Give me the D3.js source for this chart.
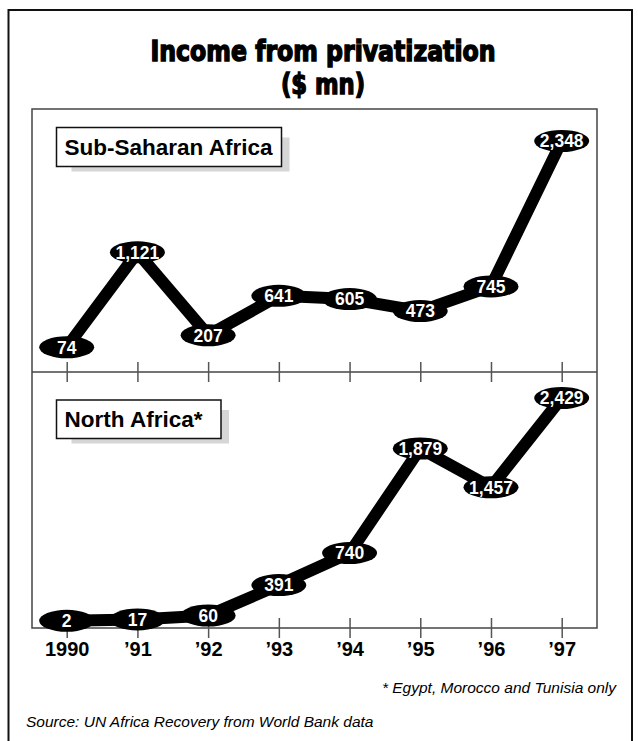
<!DOCTYPE html>
<html>
<head>
<meta charset="utf-8">
<script src="https://cdn.jsdelivr.net/npm/d3@7/dist/d3.min.js"></script>
<style>
  html, body { margin: 0; padding: 0; background: #fff; }
  svg { display: block; }
</style>
</head>
<body>
<script>
// Income from privatization, $ mn
const years = ["1990", "\u201991", "\u201992", "\u201993", "\u201994", "\u201995", "\u201996", "\u201997"];
const subSaharan = [74, 1121, 207, 641, 605, 473, 745, 2348];
const northAfrica = [2, 17, 60, 391, 740, 1879, 1457, 2429];
const panelNames = ["Sub-Saharan Africa", "North Africa*"];
const titleLines = ["Income from privatization", "($ mn)"];
const footnote = "* Egypt, Morocco and Tunisia only";
const source = "Source: UN Africa Recovery from World Bank data";

const W = 638, H = 741;
const box = { left: 32, right: 597, top: 109, mid: 372, bottom: 628 };

const svg = d3.select("body").append("svg").attr("width", W).attr("height", H);

// outer frame (open at the bottom edge of the page)
svg.append("rect")
  .attr("x", 8.5).attr("y", 10).attr("width", 623.5).attr("height", H + 20)
  .attr("fill", "none").attr("stroke", "#111").attr("stroke-width", 2);

// title, squeezed to a condensed look
const titleFont = "'Liberation Sans Narrow', 'DejaVu Sans Condensed', 'Liberation Sans', sans-serif";
const titleWidths = [345, 84];
titleLines.forEach((t, i) => {
  svg.append("text")
    .attr("x", 323).attr("y", 61 + i * 33)
    .attr("text-anchor", "middle")
    .attr("font-family", titleFont)
    .attr("font-weight", 700)
    .attr("font-size", 29)
    .attr("textLength", titleWidths[i])
    .attr("lengthAdjust", "spacingAndGlyphs")
    .attr("fill", "#000").attr("stroke", "#000").attr("stroke-width", 1.4)
    .text(t);
});

// chart box and divider
svg.append("rect")
  .attr("x", box.left).attr("y", box.top)
  .attr("width", box.right - box.left).attr("height", box.bottom - box.top)
  .attr("fill", "none").attr("stroke", "#444").attr("stroke-width", 1.5);
svg.append("line")
  .attr("x1", box.left).attr("x2", box.right)
  .attr("y1", box.mid).attr("y2", box.mid)
  .attr("stroke", "#444").attr("stroke-width", 1.5);

const x = d3.scalePoint().domain(years).range([66.7, 561.7]);

const yTop = d3.scaleLinear().domain([0, 2348]).range([354, 141]);
const yBottom = d3.scaleLinear().domain([0, 2429]).range([621, 398]);

// tick marks crossing each baseline
[box.mid, box.bottom].forEach(yb => {
  const g = svg.append("g")
    .attr("transform", `translate(0,${yb - 10})`)
    .call(d3.axisBottom(x).tickSize(20).tickFormat(""));
  g.select(".domain").remove();
  g.selectAll(".tick line").attr("stroke", "#555").attr("stroke-width", 1.5);
});

// year labels
const labelAxis = svg.append("g")
  .attr("transform", `translate(0,${box.bottom})`)
  .call(d3.axisBottom(x).tickSize(0).tickPadding(14));
labelAxis.select(".domain").remove();
labelAxis.selectAll(".tick text")
  .attr("font-family", "'Liberation Sans', Arial, sans-serif")
  .attr("font-weight", 700)
  .attr("font-size", 20)
  .attr("fill", "#000");

// panel label boxes with drop shadow
function panelLabel(name, bx, by, bw, bh) {
  svg.append("rect")
    .attr("x", bx + 15).attr("y", by + 10)
    .attr("width", bw - 7).attr("height", bh - 5)
    .attr("fill", "#d6d6d6");
  svg.append("rect")
    .attr("x", bx).attr("y", by).attr("width", bw).attr("height", bh)
    .attr("fill", "#fff").attr("stroke", "#111").attr("stroke-width", 1.5);
  svg.append("text")
    .attr("x", bx + 8).attr("y", by + bh / 2 + 7.5)
    .attr("font-family", "'Liberation Sans', Arial, sans-serif")
    .attr("font-weight", 700).attr("font-size", 22.5)
    .attr("fill", "#000")
    .text(name);
}
panelLabel(panelNames[0], 56.5, 127.5, 225, 39);
panelLabel(panelNames[1], 56.5, 400, 164.5, 38.5);

const fmt = d3.format(",");

function series(values, y) {
  const pts = values.map((v, i) => ({ v, yr: years[i] }));
  svg.append("path")
    .datum(pts)
    .attr("fill", "none").attr("stroke", "#000")
    .attr("stroke-width", 12).attr("stroke-linejoin", "round")
    .attr("d", d3.line().x(d => x(d.yr)).y(d => y(d.v)));
  const g = svg.append("g").selectAll("g").data(pts).join("g")
    .attr("transform", d => `translate(${x(d.yr)},${y(d.v)})`);
  g.append("ellipse")
    .attr("rx", 27.5).attr("ry", 11)
    .attr("fill", "#000");
  g.append("text")
    .attr("text-anchor", "middle").attr("dy", "0.36em")
    .attr("font-family", "'Liberation Sans', Arial, sans-serif")
    .attr("font-weight", 700).attr("font-size", 17.5)
    .attr("fill", "#fff")
    .text(d => fmt(d.v));
}
series(subSaharan, yTop);
series(northAfrica, yBottom);

// notes
svg.append("text")
  .attr("x", 616).attr("y", 693)
  .attr("text-anchor", "end")
  .attr("font-family", "'Liberation Sans', Arial, sans-serif")
  .attr("font-style", "italic").attr("font-size", 15.5)
  .attr("fill", "#000")
  .text(footnote);
svg.append("text")
  .attr("x", 26).attr("y", 726.5)
  .attr("font-family", "'Liberation Sans', Arial, sans-serif")
  .attr("font-style", "italic").attr("font-size", 15.5)
  .attr("fill", "#000")
  .text(source);
</script>
</body>
</html>
